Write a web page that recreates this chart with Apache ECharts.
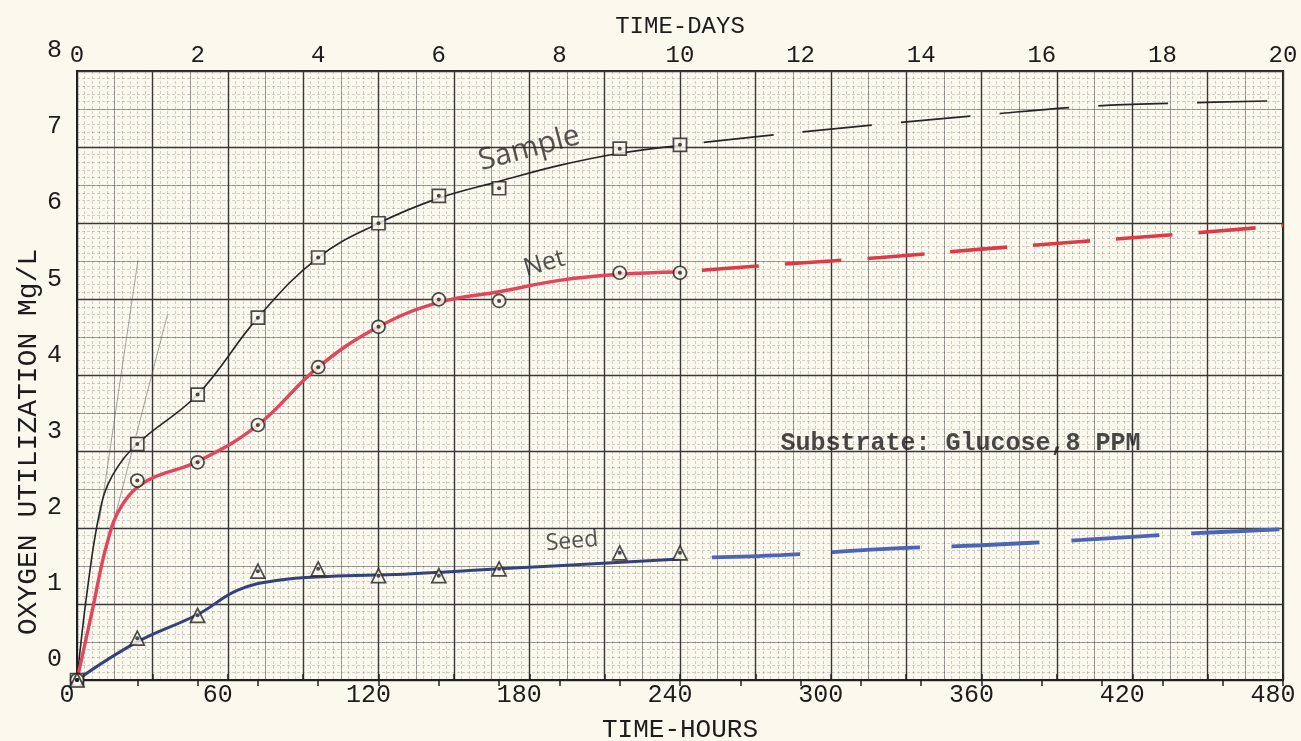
<!DOCTYPE html>
<html>
<head>
<meta charset="utf-8">
<script src="https://cdn.jsdelivr.net/npm/echarts@6/dist/echarts.min.js"></script>
<style>
  html, body { margin: 0; padding: 0; background: #fbf9ee; }
  #chart { width: 1301px; height: 741px; }
</style>
</head>
<body>
<div id="chart"></div>
<script>
// measured points (hours, mg/L)
const pointHours = [0, 24, 48, 72, 96, 120, 144, 168, 216, 240]
const samplePoints = [0, 3.1, 3.75, 4.76, 5.55, 6.0, 6.36, 6.46, 6.98, 7.03]
const netPoints = [0, 2.62, 2.86, 3.35, 4.11, 4.64, 5.0, 4.98, 5.35, 5.35]
const seedPoints = [0, 0.55, 0.85, 1.43, 1.46, 1.37, 1.37, 1.46, 1.67, 1.67]

// hand drawn curves
const sampleCurveHours = [0, 4, 9, 14, 24, 48, 72, 96, 120, 144, 168, 192, 216, 240]
const sampleCurve = [0, 1.15, 2.2, 2.68, 3.1, 3.75, 4.76, 5.55, 6.0, 6.33, 6.55, 6.76, 6.92, 7.02]
const netCurveHours = [0, 6, 12, 18, 28, 48, 72, 96, 120, 144, 168, 192, 216, 240]
const netCurve = [0, 0.9, 1.8, 2.3, 2.62, 2.87, 3.35, 4.11, 4.64, 4.96, 5.1, 5.25, 5.33, 5.36]
const seedCurveHours = [0, 24, 48, 64, 80, 100, 130, 168, 240]
const seedCurve = [0, 0.5, 0.86, 1.18, 1.31, 1.36, 1.39, 1.46, 1.59]

// dashed extrapolation to 20 days
const extHours = [240, 280, 320, 360, 400, 440, 480]
const sampleExt = [7.03, 7.17, 7.3, 7.42, 7.53, 7.58, 7.61]
const netExt = [5.36, 5.46, 5.55, 5.66, 5.76, 5.86, 5.97]
const seedExt = [1.6, 1.64, 1.72, 1.77, 1.84, 1.92, 1.98]

// faint pencil tangents near the origin
const tangentA = [[9, 2.1], [24.3, 5.52]]
const tangentB = [[14, 2.0], [36, 4.8]]

const hourTicks = [0, 60, 120, 180, 240, 300, 360, 420, 480]
const dayTicks = [0, 2, 4, 6, 8, 10, 12, 14, 16, 18, 20]

const notes = [
  { name: 'Sample', at: [180, 6.98], rotate: 15, size: 30 },
  { name: 'Net', at: [186, 5.47], rotate: 16, size: 25 },
  { name: 'Seed', at: [197, 1.82], rotate: 5, size: 23 },
]
const substrateNote = { name: 'Substrate: Glucose,8 PPM', at: [280, 3.11] }

const TYPE = "'Liberation Mono', 'DejaVu Sans Mono', monospace"
const HAND = "'Open Sans', 'Noto Sans', sans-serif"
const INK = '#1c1c1c'
const PAPER = '#fbf9ee'

const zip = (xs, ys) => xs.map((x, i) => [x, ys[i]])

const chart = echarts.init(document.getElementById('chart'), null, { renderer: 'canvas' })

function markers(name, values, symbol, size) {
  return [{
    name,
    type: 'scatter',
    data: zip(pointHours, values),
    symbol,
    symbolSize: size,
    z: 5,
    itemStyle: { color: PAPER, borderColor: '#1f1f1f', borderWidth: 1.7 },
  }, {
    name: name + ' dot',
    type: 'scatter',
    data: zip(pointHours, values),
    symbol: 'circle',
    symbolSize: 4,
    z: 6,
    itemStyle: { color: '#1f1f1f' },
  }]
}

function curve(name, data, color, width, dash, offset) {
  return {
    name,
    type: 'line',
    data,
    showSymbol: false,
    smooth: 0.4,
    z: 3,
    lineStyle: {
      color,
      width,
      type: dash || 'solid',
      dashOffset: offset || 0,
      cap: 'butt',
    },
  }
}

const minorLine = { show: true, lineStyle: { color: 'rgba(70,70,70,0.3)', width: 0.8, type: [3, 2] } }

chart.setOption({
  backgroundColor: PAPER,
  animation: false,
  grid: {
    left: 77, right: 18, top: 71, bottom: 61,
    outerBoundsMode: 'none',
    containLabel: false,
    show: true, borderColor: '#202020', borderWidth: 2,
  },
  xAxis: [{
    type: 'value',
    position: 'bottom',
    min: 0, max: 480, interval: 30,
    name: 'TIME-HOURS',
    nameLocation: 'middle',
    nameGap: 37,
    nameTextStyle: { fontFamily: TYPE, fontSize: 26, color: INK },
    axisLine: { lineStyle: { color: '#202020', width: 2 } },
    axisTick: { inside: true, length: 6, lineStyle: { color: '#202020', width: 1.5 } },
    axisLabel: {
      fontFamily: TYPE, fontSize: 25, color: INK, margin: 3,
      padding: [0, 20, 0, 0],
      formatter: v => hourTicks.includes(v) ? String(v) : '',
    },
    splitLine: { lineStyle: { color: '#353535', width: 1.4 } },
    minorTick: { show: false, splitNumber: 10 },
    minorSplitLine: minorLine,
  }, {
    type: 'value',
    position: 'top',
    min: 0, max: 20, interval: 1,
    name: 'TIME-DAYS',
    nameLocation: 'middle',
    nameGap: 32,
    nameTextStyle: { fontFamily: TYPE, fontSize: 24, color: INK },
    axisLine: { lineStyle: { color: '#202020', width: 2 } },
    axisTick: { inside: true, length: 6, lineStyle: { color: '#202020', width: 1.5 } },
    axisLabel: {
      fontFamily: TYPE, fontSize: 24, color: INK, margin: 3,
      formatter: v => dayTicks.includes(v) ? String(v) : '',
    },
    splitLine: { show: false },
  }, {
    // half-division lines of the graph paper
    type: 'value',
    position: 'bottom',
    min: 0, max: 480, interval: 15,
    axisLine: { show: false },
    axisTick: { show: false },
    axisLabel: { show: false },
    splitLine: { lineStyle: { color: 'rgba(60,60,60,0.5)', width: 0.9 } },
  }],
  yAxis: [{
    type: 'value',
    min: 0, max: 8, interval: 1,
    axisLine: { show: true, lineStyle: { color: '#202020', width: 2 } },
    axisTick: { show: false },
    axisLabel: {
      fontFamily: TYPE, fontSize: 25, color: INK, margin: 15,
      verticalAlign: 'bottom', padding: [0, 0, 8, 0],
    },
    splitLine: { lineStyle: { color: '#353535', width: 1.4 } },
    minorTick: { show: false, splitNumber: 10 },
    minorSplitLine: minorLine,
  }, {
    type: 'value',
    min: 0, max: 8, interval: 0.5,
    axisLine: { show: false },
    axisTick: { show: false },
    axisLabel: { show: false },
    splitLine: { lineStyle: { color: 'rgba(60,60,60,0.5)', width: 0.9 } },
  }],
  graphic: [{
    type: 'text',
    x: 29, y: 442,
    rotation: Math.PI / 2,
    style: {
      text: 'OXYGEN UTILIZATION Mg/L',
      font: "28px 'Liberation Mono', monospace",
      fill: INK,
      align: 'center',
      verticalAlign: 'middle',
    },
  }],
  series: [
    curve('tangent A', tangentA, 'rgba(90,90,90,0.55)', 1),
    curve('tangent B', tangentB, 'rgba(90,90,90,0.55)', 1),
    curve('Sample', zip(sampleCurveHours, sampleCurve), '#262626', 1.6),
    curve('Sample ext', zip(extHours, sampleExt), '#262626', 1.7, [70, 29], 75),
    curve('Net', zip(netCurveHours, netCurve), '#e2455c', 3.4),
    curve('Net ext', zip(extHours, netExt), '#dc3a48', 3.6, [57, 26], 61),
    curve('Seed', zip(seedCurveHours, seedCurve), '#34427c', 3),
    curve('Seed ext', zip(extHours, seedExt), '#4b64b6', 3.8, [88, 32], 88),
    ...markers('Sample pts', samplePoints, 'rect', 13),
    ...markers('Net pts', netPoints, 'circle', 13),
    ...markers('Seed pts', seedPoints, 'triangle', 14),
    {
      name: 'labels',
      type: 'scatter',
      symbolSize: 0,
      silent: true,
      z: 7,
      data: notes.map(n => ({
        value: n.at,
        label: {
          show: true,
          position: 'inside',
          formatter: n.name,
          rotate: n.rotate,
          fontFamily: HAND,
          fontSize: n.size,
          color: '#2a2a2a',
        },
      })).concat([{
        value: substrateNote.at,
        label: {
          show: true,
          position: 'right',
          distance: 0,
          formatter: substrateNote.name,
          fontFamily: TYPE,
          fontWeight: 'bold',
          fontSize: 25,
          color: '#1a1a1a',
        },
      }]),
    },
  ],
})
</script>
</body>
</html>
